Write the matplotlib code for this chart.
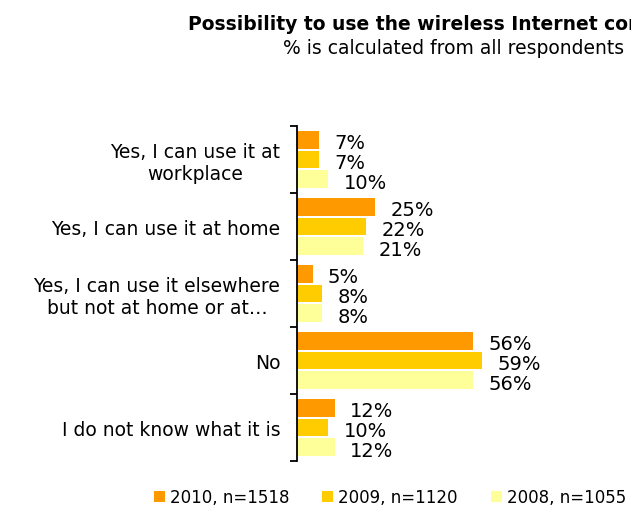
import matplotlib
matplotlib.use("Agg")
import matplotlib.pyplot as plt
from matplotlib.patches import Patch

categories = [
    "Yes, I can use it at\nworkplace",
    "Yes, I can use it at home",
    "Yes, I can use it elsewhere\nbut not at home or at\u2026",
    "No",
    "I do not know what it is",
]
series_names = ["2010, n=1518", "2009, n=1120", "2008, n=1055"]
values_2010 = [7, 25, 5, 56, 12]
values_2009 = [7, 22, 8, 59, 10]
values_2008 = [10, 21, 8, 56, 12]
colors = ["#FF9900", "#FFCC00", "#FFFF99"]

plt.rcParams["font.family"] = "DejaVu Sans"

fig = plt.figure(figsize=(6.31, 5.10), dpi=100)
ax = fig.add_axes([297 / 631, 1 - 462 / 510, 334 / 631, 335 / 510])

series = [values_2010, values_2009, values_2008]
offsets = [-0.296, 0.0, 0.296]
ypos = list(range(len(categories)))

for vals, off, col in zip(series, offsets, colors):
    ys = [y + off for y in ypos]
    ax.barh(ys, vals, height=0.265, color=col, edgecolor="none")
    for y, v in zip(ys, vals):
        ax.annotate(f"{v}%", xy=(v, y), xytext=(11, -2),
                    textcoords="offset points", ha="left", va="center",
                    fontsize=14)

ax.set_xlim(0, 106.4)
ax.set_ylim(len(categories) - 0.5, -0.5)

# category labels on major ticks, separators as minor ticks
ax.set_yticks(ypos)
ax.set_yticklabels(categories, fontsize=13.5, linespacing=1.15)
for lbl in ax.get_yticklabels():
    lbl.set_multialignment("center")
ax.tick_params(axis="y", which="major", length=0, pad=12)
ax.set_yticks([y - 0.5 for y in ypos] + [len(categories) - 0.5], minor=True)
ax.tick_params(axis="y", which="minor", length=5, width=1.3, direction="out")
ax.set_xticks([])
for side in ["top", "right", "bottom"]:
    ax.spines[side].set_visible(False)
ax.spines["left"].set_linewidth(1.3)

fig.text(454 / 631, 1 - 24 / 510,
         "Possibility to use the wireless Internet connection",
         ha="center", va="center", fontsize=13.5, fontweight="bold")
fig.text(454 / 631, 1 - 48 / 510, "% is calculated from all respondents",
         ha="center", va="center", fontsize=13.5)

handles = [Patch(facecolor=c, edgecolor="none") for c in colors]
fig.legend(handles, series_names, loc="center", ncol=3,
           bbox_to_anchor=(390 / 631, 1 - 498 / 510), frameon=False,
           fontsize=12, handlelength=0.65, handleheight=0.65,
           handletextpad=0.3, columnspacing=2.0)

fig.savefig("out.png", dpi=100)
